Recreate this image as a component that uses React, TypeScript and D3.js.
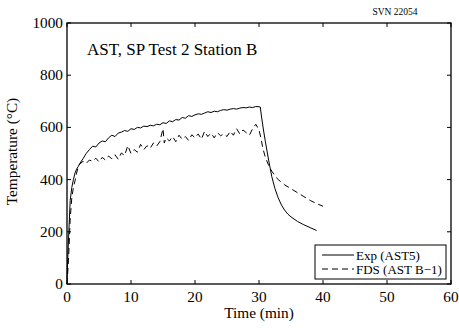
import React from "react";
import * as d3 from "d3";

const expTime = [0, 0.25, 0.5, 0.75, 1, 1.25, 1.5, 1.75, 2, 2.5, 3, 3.5, 4, 4.5, 5, 5.5, 6, 6.5, 7, 7.5, 8, 8.5, 9, 9.5, 10, 10.5, 11, 11.5, 12, 12.5, 13, 13.5, 14, 14.5, 15, 15.5, 16, 16.5, 17, 17.5, 18, 18.5, 19, 19.5, 20, 20.5, 21, 21.5, 22, 22.5, 23, 23.5, 24, 24.5, 25, 25.5, 26, 26.5, 27, 27.5, 28, 28.5, 29, 29.5, 30, 30.2, 30.4, 30.7, 31, 31.5, 32, 32.5, 33, 33.5, 34, 34.5, 35, 36, 37, 38, 39];
const expTemp = [20, 180, 320, 370, 400, 425, 440, 450, 462, 480, 500, 515, 528, 525, 540, 548, 545, 560, 570, 565, 578, 582, 588, 585, 595, 592, 600, 598, 605, 603, 608, 606, 612, 610, 618, 615, 625, 622, 630, 628, 638, 635, 645, 642, 648, 652, 650, 655, 660, 657, 662, 660, 665, 668, 666, 670, 672, 670, 674, 676, 675, 678, 676, 680, 679, 678, 640, 590, 545, 475, 411, 365, 330, 303, 283, 268, 257, 240, 227, 216, 205];

const fdsTime = [0, 0.25, 0.5, 0.75, 1, 1.25, 1.5, 1.75, 2, 2.5, 3, 3.5, 4, 4.5, 5, 5.5, 6, 6.5, 7, 7.5, 8, 8.5, 9, 9.5, 10, 10.5, 11, 11.5, 12, 12.5, 13, 13.5, 14, 14.5, 15, 15.2, 15.5, 16, 16.5, 17, 17.5, 18, 18.5, 19, 19.5, 20, 20.5, 21, 21.5, 22, 22.5, 23, 23.5, 24, 24.5, 25, 25.5, 26, 26.5, 27, 27.5, 28, 28.5, 29, 29.5, 30, 30.3, 30.6, 31, 31.5, 32, 32.5, 33, 34, 35, 36, 37, 38, 39, 40];
const fdsTemp = [0, 100, 250, 330, 370, 395, 425, 448, 460, 470, 462, 475, 470, 482, 468, 485, 475, 490, 480, 495, 478, 502, 492, 530, 500, 515, 505, 535, 515, 530, 520, 540, 528, 545, 595, 540, 560, 548, 565, 545, 570, 555, 565, 550, 572, 560, 575, 555, 585, 565, 578, 560, 580, 568, 575, 565, 585, 570, 595, 575, 590, 580, 570, 595, 612, 590, 560, 520, 485, 455, 432, 415, 400, 380, 365, 350, 335, 320, 308, 298];

const xTicks = [0, 10, 20, 30, 40, 50, 60];
const yTicks = [0, 200, 400, 600, 800, 1000];

const titleText = "AST, SP Test 2 Station B";
const svnText = "SVN 22054";
const xLabel = "Time (min)";
const yLabel = "Temperature (\u00B0C)";
const legendLabels = ["Exp (AST5)", "FDS (AST B\u22121)"];

const W = 459, H = 328;
const L = 67, R = 451, T = 23, B = 284;
const FONT = "Liberation Serif, Times New Roman, DejaVu Serif, serif";
const ts = { fontFamily: FONT };

export default function App() {
  const x = d3.scaleLinear().domain([0, 60]).range([L, R]);
  const y = d3.scaleLinear().domain([0, 1000]).range([B, T]);
  const line = d3.line<[number, number]>().x(d => x(d[0])).y(d => y(d[1]));
  const expPath = line(expTime.map((t, i) => [t, expTemp[i]]) as [number, number][]) || "";
  const fdsPath = line(fdsTime.map((t, i) => [t, fdsTemp[i]]) as [number, number][]) || "";
  const tl = 4;
  return (
    <svg width={W} height={H} style={{ position: "absolute", left: 0, top: 0, background: "#fff", fontFamily: FONT }}>
      <rect x={0} y={0} width={W} height={H} fill="#fff" />
      <text style={ts} x={395} y={15} fontSize={9.5} textAnchor="middle">{svnText}</text>
      <path d={expPath} fill="none" stroke="#000" strokeWidth={1} />
      <path d={fdsPath} fill="none" stroke="#000" strokeWidth={1} strokeDasharray="6,4" />
      <rect x={L} y={T} width={R - L} height={B - T} fill="none" stroke="#000" strokeWidth={1.3} />
      {xTicks.map(t => (
        <g key={"x" + t}>
          <line x1={x(t)} x2={x(t)} y1={B} y2={B - tl} stroke="#000" />
          <line x1={x(t)} x2={x(t)} y1={T} y2={T + tl} stroke="#000" />
          <text style={ts} x={x(t)} y={302} fontSize={15.3} textAnchor="middle">{t}</text>
        </g>
      ))}
      {yTicks.map(v => (
        <g key={"y" + v}>
          <line x1={L} x2={L + tl} y1={y(v)} y2={y(v)} stroke="#000" />
          <line x1={R} x2={R - tl} y1={y(v)} y2={y(v)} stroke="#000" />
          <text style={ts} x={63} y={y(v) + 5} fontSize={15.3} textAnchor="end">{v}</text>
        </g>
      ))}
      <text style={ts} x={259} y={318} fontSize={15.3} textAnchor="middle">{xLabel}</text>
      <text style={ts} transform={`translate(17,${(T + B) / 2 - 2}) rotate(-90)`} fontSize={15.3} textAnchor="middle">{yLabel}</text>
      <text style={ts} x={87} y={55} fontSize={17}>{titleText}</text>
      <g>
        <rect x={315} y={245} width={131} height={34} fill="#fff" stroke="#000" strokeWidth={1} />
        <line x1={322} x2={354} y1={255} y2={255} stroke="#000" />
        <line x1={322} x2={354} y1={269} y2={269} stroke="#000" strokeDasharray="6,4" />
        <text style={ts} x={356} y={259.5} fontSize={13}>{legendLabels[0]}</text>
        <text style={ts} x={356} y={273.5} fontSize={13}>{legendLabels[1]}</text>
      </g>
    </svg>
  );
}
